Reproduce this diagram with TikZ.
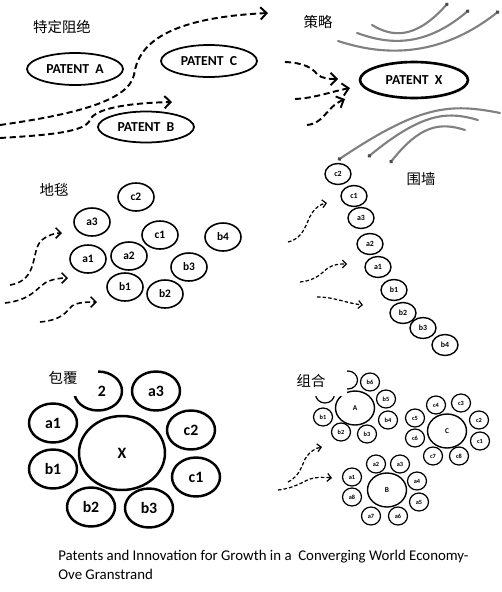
\documentclass[tikz,border=0pt]{standalone}
\usepackage{fontspec}
\setsansfont{Carlito}
\newfontfamily\cjk{Noto Sans CJK SC}
\usepackage{tikz}
\usetikzlibrary{shapes.geometric,arrows.meta}

\begin{document}
\begin{tikzpicture}[x=0.02cm,y=-0.02cm,
  title/.style={font=\cjk\fontsize{8.2}{9}\selectfont, inner sep=0pt},
  patent/.style={ellipse, draw, line width=1pt, inner sep=0pt, minimum width=1.92cm, minimum height=0.64cm, font=\sffamily\bfseries\fontsize{7.8}{9}\selectfont},
  rug/.style={ellipse, draw, line width=0.9pt, inner sep=0pt, minimum width=0.72cm, minimum height=0.56cm, font=\sffamily\bfseries\fontsize{6.5}{7}\selectfont},
  wall/.style={ellipse, draw, line width=0.8pt, inner sep=0pt, minimum width=0.52cm, minimum height=0.42cm, font=\sffamily\bfseries\fontsize{4.5}{5}\selectfont},
  cover/.style={ellipse, draw, line width=1.4pt, inner sep=0pt, minimum width=0.96cm, minimum height=0.78cm, font=\sffamily\bfseries\fontsize{9}{10}\selectfont},
  combo/.style={ellipse, draw, line width=0.7pt, inner sep=0pt, minimum width=0.38cm, minimum height=0.36cm, font=\sffamily\bfseries\fontsize{3.6}{4}\selectfont},
  hub/.style={combo, minimum width=0.78cm, minimum height=0.68cm, line width=0.8pt, font=\sffamily\bfseries\fontsize{4.2}{5}\selectfont},
  bigdash/.style={line width=1.1pt, dash pattern=on 3.5pt off 2pt, -{Straight Barb[length=3.5pt,width=7pt]}},
  middash/.style={line width=0.9pt, dash pattern=on 3pt off 1.8pt, -{Straight Barb[length=3pt,width=6pt]}},
  thindash/.style={line width=0.7pt, dash pattern=on 2pt off 1.2pt, -{Straight Barb[length=2.2pt,width=4.5pt]}},
  fence/.style={line width=1.2pt, gray, line cap=round, -{Circle[length=2pt,black!70]}}]
\useasboundingbox (0,0) rectangle (502,592);
\fill[white] (0,0) rectangle (502,592);

\node[title] (tblock) at (62,27) {特定阻绝};
\node[patent] (pA) at (75,69) {PATENT\ \ A};
\node[patent] (pC) at (209,61) {PATENT\ \ C};
\node[patent, minimum height=0.62cm] (pB) at (146,127) {PATENT\ \ B};
\draw[bigdash] (0,125) .. controls (70,115) and (128,102) .. (134,75) .. controls (138,45) and (165,18) .. (268,13);
\draw[bigdash] (0,138) .. controls (50,135) and (85,132) .. (90,120) .. controls (95,108) and (130,103) .. (172,102);

\node[title] (tstrat) at (318,22) {策略};
\node[patent, line width=1.5pt, minimum width=2.16cm, minimum height=0.72cm] (pX) at (414,80) {PATENT\ \ X};
\draw[fence] (372,25) .. controls (392,37) and (415,40) .. (448,3);
\draw[fence] (357,33) .. controls (385,43) and (422,50) .. (469,10);
\draw[fence] (338,41) .. controls (372,52) and (432,64) .. (499,11);
\draw[fence] (500,113) .. controls (450,103) and (420,105) .. (338,160);
\draw[fence] (478,120) .. controls (450,112) and (425,110) .. (368,157);
\draw[fence] (465,130) .. controls (440,122) and (420,125) .. (390,163);
\draw[bigdash] (285,62) .. controls (305,63) and (312,68) .. (317,74) .. controls (322,79) and (330,79) .. (338,79);
\draw[bigdash] (295,99) .. controls (315,98) and (330,92) .. (350,88);
\draw[bigdash] (307,125) .. controls (325,123) and (325,108) .. (345,99);

\node[title] (tcarpet) at (54,190) {地毯};
\node[rug] (rc2) at (136,197) {c2};
\node[rug] (ra3) at (92,222) {a3};
\node[rug] (rc1) at (160,235) {c1};
\node[rug] (rb4) at (223,237) {b4};
\node[rug] (ra1) at (88,259) {a1};
\node[rug] (ra2) at (129,256) {a2};
\node[rug] (rb3) at (189,267) {b3};
\node[rug] (rb1) at (125,287) {b1};
\node[rug] (rb2) at (165,294) {b2};
\draw[middash] (10,285) .. controls (40,280) and (30,250) .. (42,240) .. controls (48,235) and (55,233) .. (62,233);
\draw[middash] (5,303) .. controls (30,300) and (35,290) .. (45,283) .. controls (52,279) and (60,278) .. (68,278);
\draw[middash] (40,322) .. controls (62,320) and (66,312) .. (72,306) .. controls (78,302) and (88,302) .. (97,302);

\node[title] (tfence) at (421,179) {围墙};
\node[wall] (wc2) at (338,174) {c2};
\node[wall] (wc1) at (354,196) {c1};
\node[wall] (wa3) at (361,218) {a3};
\node[wall] (wa2) at (370,244) {a2};
\node[wall] (wa1) at (378,267) {a1};
\node[wall] (wb1) at (394,290) {b1};
\node[wall] (wb2) at (403,313) {b2};
\node[wall] (wb3) at (423,328) {b3};
\node[wall] (wb4) at (445,345) {b4};
\draw[thindash] (288,242) .. controls (305,238) and (306,222) .. (312,213) .. controls (316,207) and (321,204) .. (327,203);
\draw[thindash] (300,282) .. controls (318,280) and (322,272) .. (328,268) .. controls (334,264) and (340,264) .. (347,264);
\draw[thindash] (317,297) .. controls (335,297) and (345,303) .. (363,305);

\node[cover, minimum width=1.72cm, minimum height=1.48cm] (vX) at (122,453) {X};
\node[cover] (va2) at (98,391) {a2};
\node[cover] (va3) at (156,391) {a3};
\node[cover] (va1) at (53,423) {a1};
\node[cover] (vc2) at (191,430) {c2};
\node[cover] (vb1) at (53,469) {b1};
\node[cover] (vc1) at (196,477) {c1};
\node[cover] (vb2) at (91,507) {b2};
\node[cover] (vb3) at (149,508) {b3};
\node[title, fill=white, inner xsep=0.42cm, inner ysep=0.235cm] (tcover) at (63,378) {包覆};

\node[hub] (hA) at (355,408) {A};
\node[combo] (kb1) at (323,417) {b1};
\node[combo] (kb2) at (341,432) {b2};
\node[combo] (kb3) at (367,434) {b3};
\node[combo] (kb4) at (388,420) {b4};
\node[combo] (kb5) at (386,399) {b5};
\node[combo] (kb6) at (370,382) {b6};
\node[combo] (kb7) at (348,380) {};
\node[combo] (kb8) at (325,394) {};
\node[hub] (hC) at (447,431) {C};
\node[combo] (kc1) at (480,441) {c1};
\node[combo] (kc2) at (479,420) {c2};
\node[combo] (kc3) at (461,403) {c3};
\node[combo] (kc4) at (436,405) {c4};
\node[combo] (kc5) at (415,418) {c5};
\node[combo] (kc6) at (415,438) {c6};
\node[combo] (kc7) at (433,456) {c7};
\node[combo] (kc8) at (459,456) {c8};
\node[hub] (hB) at (387,490) {B};
\node[combo] (ka1) at (352,477) {a1};
\node[combo] (ka2) at (376,464) {a2};
\node[combo] (ka3) at (400,464) {a3};
\node[combo] (ka4) at (417,481) {a4};
\node[combo] (ka5) at (419,502) {a5};
\node[combo] (ka6) at (398,516) {a6};
\node[combo] (ka7) at (371,516) {a7};
\node[combo] (ka8) at (352,497) {a8};
\node[title, fill=white, inner xsep=0.43cm, inner ysep=0.175cm] (tcombo) at (311,381) {组合};
\draw[thindash] (288,482) .. controls (302,475) and (302,462) .. (307,456) .. controls (311,451) and (316,448) .. (322,447);
\draw[thindash] (278,490) .. controls (295,488) and (302,482) .. (310,479) .. controls (316,477) and (324,477) .. (332,478);

\node[anchor=north west, align=left, inner sep=0pt, font=\sffamily\fontsize{8.45}{10.8}\selectfont] (caption) at (58,550)
  {Patents and Innovation for Growth in a\ \ Converging World Economy-\\Ove Granstrand};
\end{tikzpicture}
\end{document}
